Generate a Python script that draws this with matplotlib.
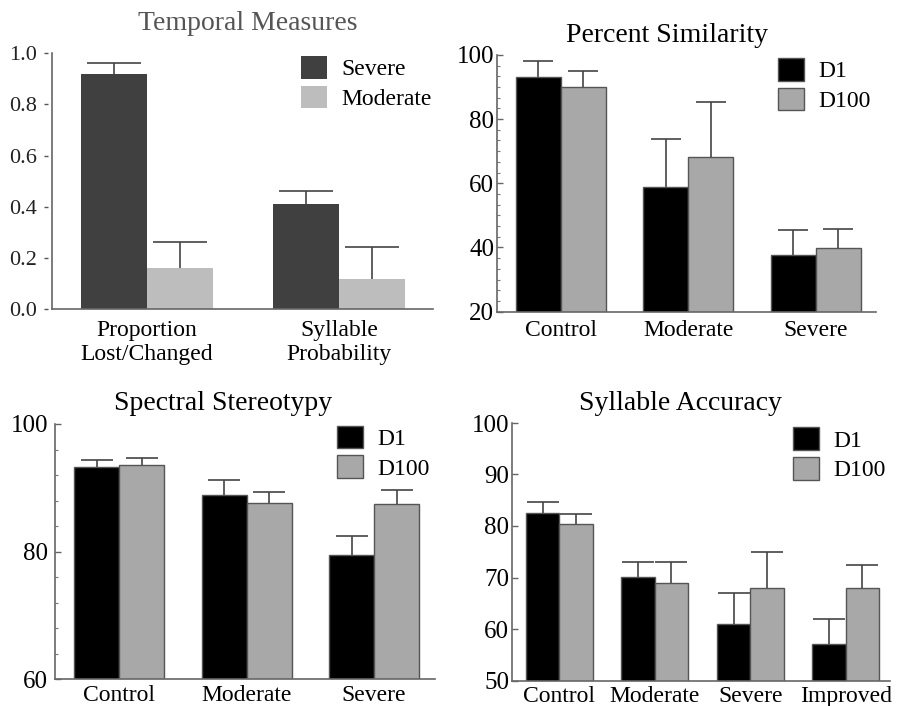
import numpy as np
import matplotlib
matplotlib.use("Agg")
import matplotlib.pyplot as plt
from matplotlib.ticker import MultipleLocator, NullLocator

plt.rcParams['font.family'] = ['Liberation Serif', 'DejaVu Serif']

# --- data ---
temporal_groups = ["Proportion\nLost/Changed", "Syllable\nProbability"]
temporal_severe = [0.919, 0.412]
temporal_severe_err = [0.042, 0.051]
temporal_moderate = [0.160, 0.119]
temporal_moderate_err = [0.103, 0.122]

sim_groups = ["Control", "Moderate", "Severe"]
sim_d1 = [93.0, 58.8, 37.8]
sim_d1_err = [5.1, 15.0, 7.7]
sim_d100 = [89.9, 68.3, 39.8]
sim_d100_err = [5.1, 17.0, 5.9]

spec_groups = ["Control", "Moderate", "Severe"]
spec_d1 = [93.2, 88.9, 79.5]
spec_d1_err = [1.1, 2.4, 3.0]
spec_d100 = [93.5, 87.6, 87.4]
spec_d100_err = [1.1, 1.8, 2.2]

acc_groups = ["Control", "Moderate", "Severe", "Improved"]
acc_d1 = [82.6, 70.1, 61.0, 57.0]
acc_d1_err = [2.0, 2.9, 6.0, 5.0]
acc_d100 = [80.4, 69.0, 68.0, 68.0]
acc_d100_err = [1.9, 4.0, 7.0, 4.5]

W, H = 905, 706
fig = plt.figure(figsize=(W / 100, H / 100), dpi=100)


def px_axes(left, right, top, bottom):
    return fig.add_axes([left / W, 1 - bottom / H, (right - left) / W, (bottom - top) / H])


def px_text(x, y, s, **kw):
    fig.text(x / W, 1 - y / H, s, ha="center", va="center", **kw)


def style(ax, tick_dir, tick_pad, xpad=6, ysize=18):
    for side in ("top", "right"):
        ax.spines[side].set_visible(False)
    for side in ("left", "bottom"):
        ax.spines[side].set_color("#666666")
        ax.spines[side].set_linewidth(1.2)
    ax.tick_params(axis="x", length=0, pad=xpad, labelsize=17)
    ax.tick_params(axis="y", which="major", direction=tick_dir, length=4,
                   width=1, color="#666666", pad=tick_pad, labelsize=ysize)
    ax.tick_params(axis="y", which="minor", direction=tick_dir, length=2.5,
                   width=0.8, color="#777777")


def up_errors(ax, x, top, err, capsize):
    top = np.asarray(top)
    err = np.asarray(err)
    ax.errorbar(x, top, yerr=[np.zeros(len(err)), err], fmt="none",
                ecolor="#444444", elinewidth=1.2, capsize=0)
    ax.plot(x, top + err, linestyle="none", marker="_", color="#444444",
            markersize=2 * capsize, markeredgewidth=1.2)


def paired_bars(ax, groups, a, a_err, b, b_err, width, ca, cb, la, lb,
                edge, capsize):
    x = np.arange(len(groups))
    ax.bar(x - width / 2, a, width, color=ca, edgecolor=edge, linewidth=1,
           label=la)
    ax.bar(x + width / 2, b, width, color=cb, edgecolor=edge, linewidth=1,
           label=lb)
    up_errors(ax, x - width / 2, a, a_err, capsize)
    up_errors(ax, x + width / 2, b, b_err, capsize)
    ax.set_xticks(x)
    ax.set_xticklabels(groups)


def legend(ax, x, y, edge):
    leg = ax.legend(loc="upper left", bbox_to_anchor=(x / W, 1 - y / H),
                    bbox_transform=fig.transFigure, frameon=False, fontsize=17,
                    handlelength=1.1, handleheight=1.1, labelspacing=0.22,
                    handletextpad=0.6, borderpad=0, borderaxespad=0)
    for p in leg.get_patches():
        p.set_edgecolor(edge)


# --- Temporal Measures ---
ax1 = px_axes(52, 433, 53.3, 309)
paired_bars(ax1, temporal_groups, temporal_severe, temporal_severe_err,
            temporal_moderate, temporal_moderate_err, 0.346,
            "#404040", "#bdbdbd", "Severe", "Moderate", "none", 19.5)
ax1.set_ylim(0, 1.0)
ax1.set_xlim(-0.495, 1.49)
ax1.set_yticks(np.arange(0, 1.01, 0.2))
ax1.set_yticklabels(["0.0", "0.2", "0.4", "0.6", "0.8", "1.0"])
style(ax1, "out", 5, xpad=8, ysize=16)
# ticks sit a little away from the axis line
ax1.spines["left"].set_position(("outward", 3))
ax1.spines["left"].set_visible(False)
ax1.tick_params(axis="y", length=3, colors="#555555", labelcolor="#222222")
ax1.axvline(ax1.get_xlim()[0], color="#666666", linewidth=1.2, clip_on=False)
legend(ax1, 301, 56, "none")
px_text(248, 23, "Temporal Measures", fontsize=20, color="#555555")

# --- Percent Similarity ---
ax2 = px_axes(497, 876, 54.9, 311.7)
paired_bars(ax2, sim_groups, sim_d1, sim_d1_err, sim_d100, sim_d100_err,
            0.353, "black", "#a8a8a8", "D1", "D100", "#555555", 11)
ax2.set_ylim(20, 100)
ax2.set_xlim(-0.5, 2.473)
ax2.yaxis.set_major_locator(MultipleLocator(20))
ax2.yaxis.set_minor_locator(MultipleLocator(20 / 6))
style(ax2, "in", 2)
legend(ax2, 778, 58, "#555555")
px_text(667, 35, "Percent Similarity", fontsize=20)

# --- Spectral Stereotypy ---
ax3 = px_axes(55, 435, 424, 679.3)
paired_bars(ax3, spec_groups, spec_d1, spec_d1_err, spec_d100, spec_d100_err,
            0.353, "black", "#a8a8a8", "D1", "D100", "#555555", 11.5)
ax3.set_ylim(60, 100)
ax3.set_xlim(-0.502, 2.478)
ax3.yaxis.set_major_locator(MultipleLocator(20))
ax3.yaxis.set_minor_locator(MultipleLocator(4))
style(ax3, "in", 5, xpad=4)
legend(ax3, 337, 425.7, "#555555")
px_text(223, 403, "Spectral Stereotypy", fontsize=20)

# --- Syllable Accuracy ---
ax4 = px_axes(512, 890, 423, 680.5)
paired_bars(ax4, acc_groups, acc_d1, acc_d1_err, acc_d100, acc_d100_err,
            0.349, "black", "#a8a8a8", "D1", "D100", "#555555", 11.4)
ax4.set_ylim(50, 100)
ax4.set_xlim(-0.495, 3.463)
ax4.yaxis.set_major_locator(MultipleLocator(10))
ax4.yaxis.set_minor_locator(NullLocator())
style(ax4, "in", 2, xpad=4)
legend(ax4, 793, 427.3, "#555555")
px_text(680, 403, "Syllable Accuracy", fontsize=20)

fig.savefig("out.png", dpi=100)
